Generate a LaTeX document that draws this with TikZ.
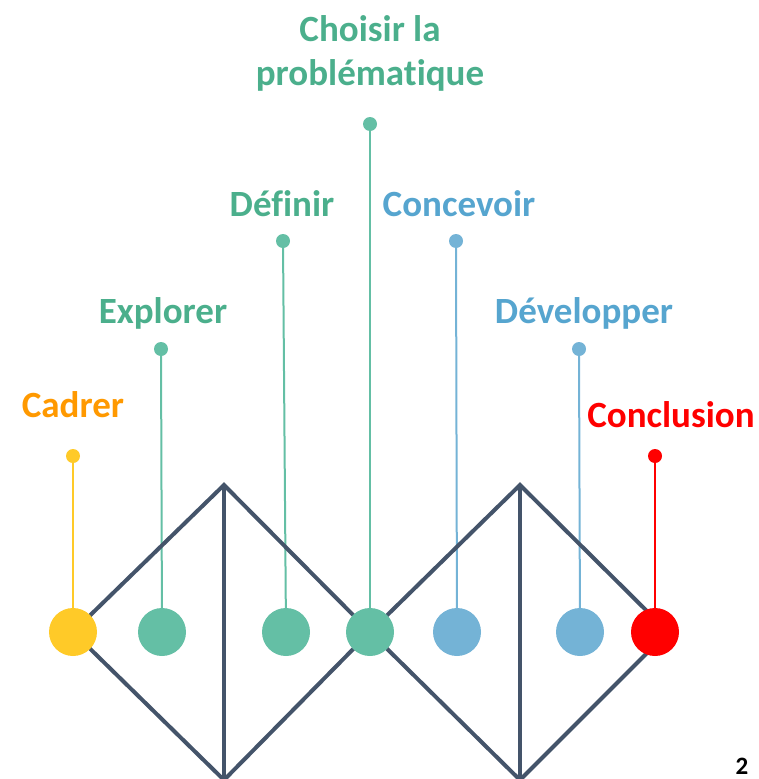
\documentclass[tikz,border=0pt]{standalone}
\usepackage{fontspec}
\setmainfont{Carlito}[Ligatures=NoCommon]
\pgfdeclarelayer{background}
\pgfsetlayers{background,main}
\definecolor{slate}{HTML}{44546A}
\definecolor{dyellow}{HTML}{FFCA28}
\definecolor{dgreen}{HTML}{64BFA5}
\definecolor{dblue}{HTML}{74B3D6}
\definecolor{dred}{HTML}{FF0000}
\definecolor{torange}{HTML}{FF9900}
\definecolor{tgreen}{HTML}{4BAF8C}
\definecolor{tblue}{HTML}{56A5CF}
\tikzstyle{stage}=[circle,minimum size=48pt,inner sep=0pt]
\tikzstyle{pin}=[circle,minimum size=14pt,inner sep=0pt]
\tikzstyle{stem}=[draw,line width=2pt]
\tikzstyle{frame}=[draw=slate,line width=4pt]
\tikzstyle{stagename}=[font=\fontsize{37}{44}\selectfont\bfseries,align=center,inner sep=0pt,anchor=base]

\begin{document}
\begin{tikzpicture}[x=1pt,y=-1pt]
				\useasboundingbox (0,0) rectangle (758,779);

				% Corners of the two diamonds
				\foreach \x/\y/\name in {73/632/l1, 224/485/t1, 370/632/m, 224/780/b1,
										520/485/t2, 668/632/r2, 520/780/b2}
				\coordinate (\name) at (\x,\y);

				% Big dots on the axis and small pins above them
				\foreach \x/\xp/\yp/\col/\name in {73/73/456/dyellow/cad, 162/161/349/dgreen/exp, 286/283/241/dgreen/def,
										370/370/124/dgreen/cho, 457/456/241/dblue/con, 580/579/349/dblue/dev, 655/655/456/dred/clo}
				{
				\node[stage, fill=\col] (\name) at (\x,632) {};
				\node[pin, fill=\col] (p\name) at (\xp,\yp) {};
				\begin{pgfonlayer}{background}
				\path[stem, draw=\col] (p\name.center) -- (\name.center);
				\end{pgfonlayer}
				}

				% Diamonds go behind the dots
				\begin{pgfonlayer}{background}
				\path[frame] (l1) -- (t1) -- (m) -- (b1) -- cycle;
				\path[frame] (t1) -- (b1);
				\path[frame] (m) -- (t2) -- (r2) -- (b2) -- cycle;
				\path[frame] (t2) -- (b2);
				\end{pgfonlayer}

				% Stage names
				\node[stagename, text=torange] (ncad) at (73,417) {Cadrer};
				\node[stagename, text=tgreen] (nexp) at (163,323) {Explorer};
				\node[stagename, text=tgreen] (ndef) at (282,216) {Définir};
				\node[stagename, text=tgreen] (ncho) at (370,85) {Choisir la\\problématique};
				\node[stagename, text=tblue] (ncon) at (459,216) {Concevoir};
				\node[stagename, text=tblue] (ndev) at (584,323) {Développer};
				\node[stagename, text=dred] (nclo) at (671,427) {Conclusion};

				\node[font=\fontsize{25}{28}\selectfont\bfseries, inner sep=0pt, anchor=base] (page) at (742,774) {2};
			\end{tikzpicture}
\end{document}
